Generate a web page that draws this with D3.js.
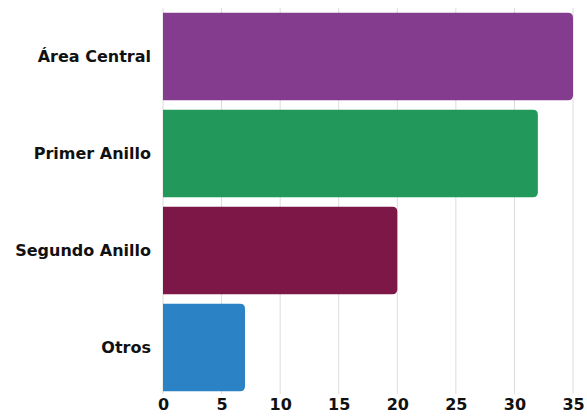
<!DOCTYPE html>
<html>
<head>
<meta charset="utf-8">
<script src="https://cdn.jsdelivr.net/npm/d3@7"></script>
<style>
  html, body { margin: 0; padding: 0; background: #fff; }
  svg text { font-family: "DejaVu Sans", "Open Sans", sans-serif; font-weight: 700; fill: #111; }
</style>
</head>
<body>
<svg id="chart" width="587" height="416"></svg>
<script>
const categories = ["Área Central", "Primer Anillo", "Segundo Anillo", "Otros"];
const values = [35, 32, 20, 7];
const colors = ["#843c8e", "#22995a", "#7c1747", "#2b83c6"];
const ticks = [0, 5, 10, 15, 20, 25, 30, 35];

const svg = d3.select("#chart");
const margin = { left: 163, right: 14, top: 8, bottom: 20 };
const W = 587, H = 416;

const x = d3.scaleLinear().domain([0, 35]).range([margin.left, W - margin.right]);
const y = d3.scaleBand().domain(categories).range([margin.top, H - margin.bottom])
  .paddingInner(0.1).paddingOuter(0.05);

// vertical grid lines
svg.append("g").selectAll("line").data(ticks).join("line")
  .attr("x1", d => x(d)).attr("x2", d => x(d))
  .attr("y1", margin.top).attr("y2", H - margin.bottom - 2)
  .attr("stroke", "#dcdcdc").attr("stroke-width", 1);

// bars: square on the left, rounded on the right
const r = 5;
function barPath(x0, x1, y0, h) {
  const rr = Math.min(r, (x1 - x0) / 2);
  return `M${x0},${y0}H${x1 - rr}Q${x1},${y0} ${x1},${y0 + rr}V${y0 + h - rr}Q${x1},${y0 + h} ${x1 - rr},${y0 + h}H${x0}Z`;
}
svg.append("g").selectAll("path").data(categories).join("path")
  .attr("d", (c, i) => barPath(x(0), x(values[i]), y(c), y.bandwidth()))
  .attr("fill", (c, i) => colors[i]);

// category labels
const yAxis = d3.axisLeft(y).tickSize(0).tickPadding(12);
const gy = svg.append("g").attr("transform", `translate(${x(0)},0)`).call(yAxis);
gy.select(".domain").remove();
gy.selectAll("text").style("font-size", "16px").style("font-family", null).attr("fill", null);

// value axis
const xAxis = d3.axisBottom(x).tickValues(ticks).tickSize(0).tickPadding(7);
const gx = svg.append("g").attr("transform", `translate(0,${H - margin.bottom - 4})`).call(xAxis);
gx.select(".domain").remove();
gx.selectAll("text").style("font-size", "16px").style("font-family", null).attr("fill", null);
</script>
</body>
</html>
